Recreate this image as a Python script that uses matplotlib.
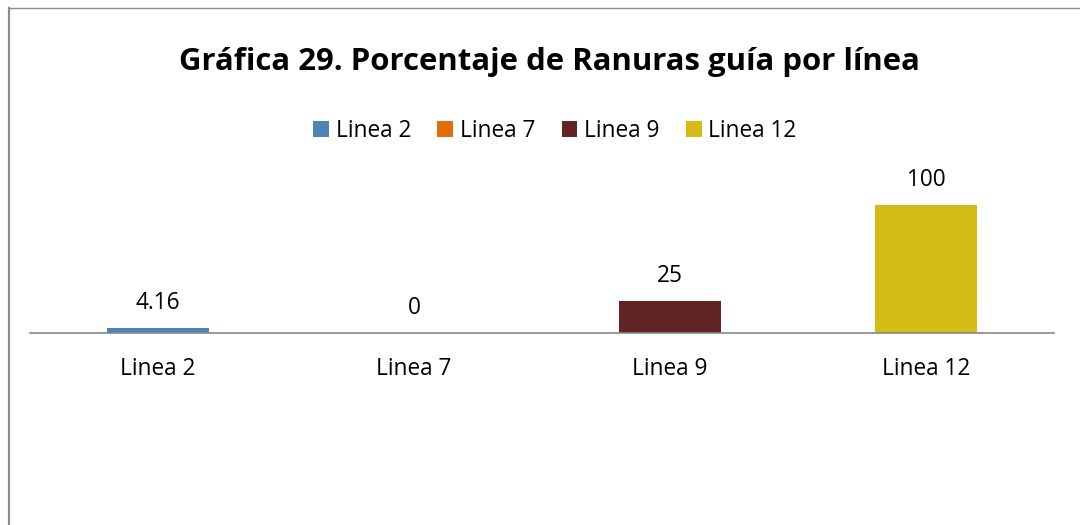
import matplotlib
matplotlib.use("Agg")
import matplotlib.pyplot as plt
from matplotlib.lines import Line2D
from matplotlib.patches import Patch

categories = ["Linea 2", "Linea 7", "Linea 9", "Linea 12"]
values = [4.16, 0, 25, 100]
value_labels = ["4.16", "0", "25", "100"]
colors = ["#4F81BD", "#E46C0A", "#632523", "#D4BC14"]
title = "Gráfica 29. Porcentaje de Ranuras guía por línea"

plt.rcParams['font.family'] = ['Open Sans', 'DejaVu Sans']

fig = plt.figure(figsize=(10.8, 5.25), dpi=100)
W, H = 1080, 525
FS = 16.3

# border
fig.add_artist(Line2D([9/W, 9/W], [0, 1 - 8/H], color="#8C8C8C", lw=1.6))
fig.add_artist(Line2D([9/W, 1], [1 - 8/H, 1 - 8/H], color="#8C8C8C", lw=1.0))

ax = fig.add_axes([30/W, (H - 333)/H, 1024/W, 128/H])
x = list(range(len(categories)))
bars = ax.bar(x, values, width=0.40, color=colors)
ax.set_xlim(-0.5, len(categories) - 0.5)
ax.set_ylim(0, 100)
for s in ["top", "right", "left"]:
    ax.spines[s].set_visible(False)
ax.spines["bottom"].set_color("#868686")
ax.spines["bottom"].set_linewidth(1.2)
ax.set_yticks([])
ax.set_xticks(x)
ax.set_xticklabels(categories, fontsize=FS, color="#000000")
ax.tick_params(axis="x", length=0, pad=17)

for xi, v, lab in zip(x, values, value_labels):
    ax.annotate(lab, (xi, v), xytext=(0, 9), textcoords="offset points",
                ha="center", va="bottom", fontsize=FS, annotation_clip=False)

fig.text(549/W, 1 - 62/H, title, ha="center", va="center", fontsize=22.4, fontweight="bold")

handles = [Patch(facecolor=c, edgecolor="none") for c in colors]
fig.legend(handles, categories, loc="center", bbox_to_anchor=(555/W, 1 - 131/H), ncol=4,
           frameon=False, fontsize=FS, handlelength=0.7, handleheight=0.7,
           handletextpad=0.3, columnspacing=1.15, borderpad=0)

fig.savefig("out.png", dpi=100, facecolor="white")
